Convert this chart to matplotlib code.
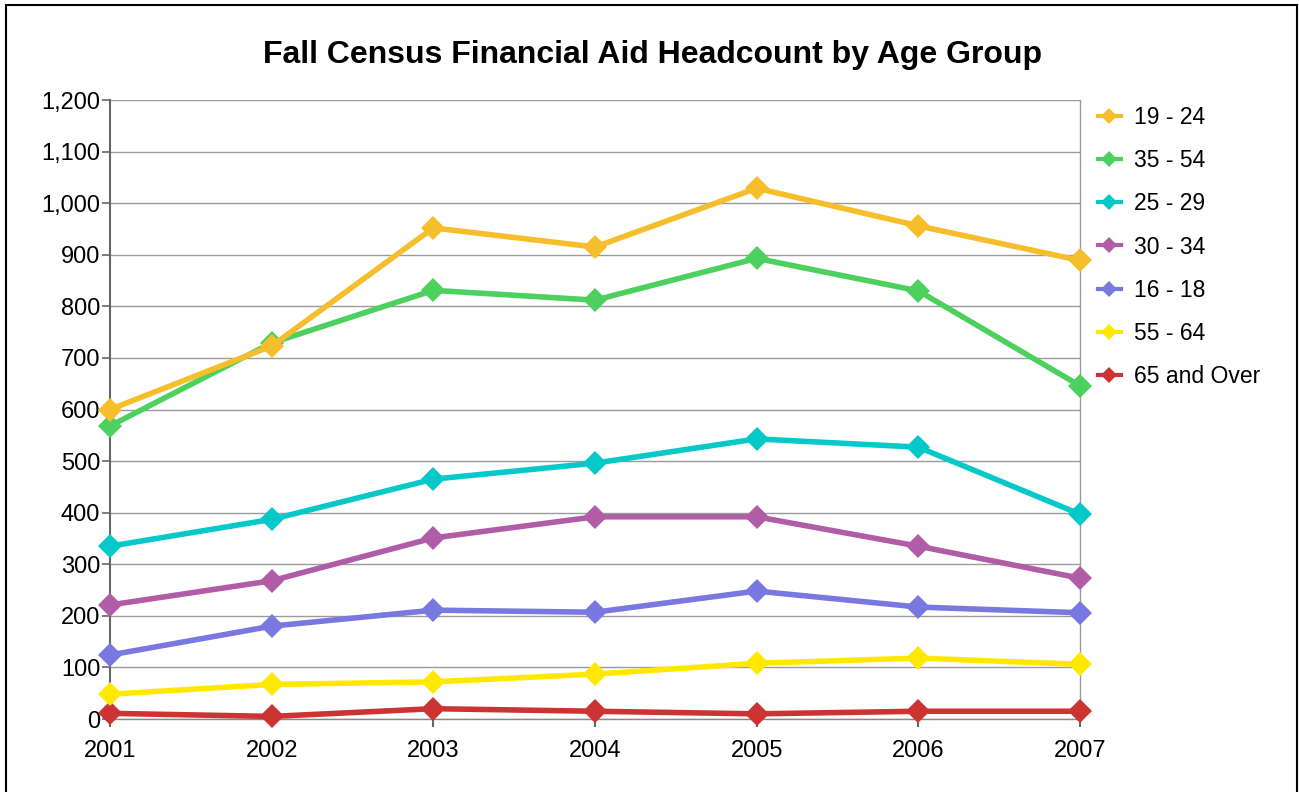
"""Fall census financial aid headcount by age group, 2001-2007."""

import matplotlib
matplotlib.use("Agg")
import matplotlib.pyplot as plt
from matplotlib.patches import Rectangle
from matplotlib.ticker import FuncFormatter, MultipleLocator

plt.rcParams["font.family"] = ["Liberation Sans", "DejaVu Sans"]

years = [2001, 2002, 2003, 2004, 2005, 2006, 2007]

age_19_24 = [600, 723, 952, 915, 1029, 956, 889]
age_35_54 = [568, 729, 831, 812, 893, 830, 646]
age_25_29 = [335, 387, 465, 496, 543, 527, 397]
age_30_34 = [221, 268, 351, 392, 392, 335, 273]
age_16_18 = [124, 180, 211, 207, 248, 217, 206]
age_55_64 = [48, 67, 72, 87, 108, 118, 106]
age_65_over = [11, 5, 20, 15, 10, 15, 15]

series = [
    ("19 - 24", age_19_24, "#F7BE2C"),
    ("35 - 54", age_35_54, "#4CD05E"),
    ("25 - 29", age_25_29, "#05C9C9"),
    ("30 - 34", age_30_34, "#B05CA6"),
    ("16 - 18", age_16_18, "#7878E0"),
    ("55 - 64", age_55_64, "#FFE800"),
    ("65 and Over", age_65_over, "#CC3333"),
]

W, H = 1299, 792
fig = plt.figure(figsize=(W / 100, H / 100), dpi=100)
ax = fig.add_axes([110 / W, 1 - 719 / H, (1080 - 110) / W, (719 - 100) / H])

n = len(series)
for i, (label, vals, col) in enumerate(series):
    ax.plot(years, vals, color=col, linewidth=4.0, marker="D",
            markersize=12, markeredgewidth=0, label=label,
            zorder=10 + n - i, clip_on=False)

ax.set_xlim(2001, 2007)
ax.set_ylim(0, 1200)
ax.set_xticks(years)
ax.set_xticklabels([str(y) for y in years])
ax.yaxis.set_major_locator(MultipleLocator(100))
ax.yaxis.set_major_formatter(FuncFormatter(lambda v, p: f"{int(v):,}"))

ax.grid(axis="y", color="#9a9a9a", linewidth=1.0)
ax.set_axisbelow(True)
ax.spines["top"].set_visible(False)
ax.spines["left"].set_color("#666666")
ax.spines["left"].set_linewidth(1.5)
ax.spines["bottom"].set_color("#888888")
ax.spines["bottom"].set_linewidth(1.0)
ax.spines["right"].set_color("#999999")
ax.spines["right"].set_linewidth(1.0)
ax.tick_params(axis="y", length=6, width=1.2, color="#666666",
               labelsize=17, pad=1, labelcolor="black")
ax.tick_params(axis="x", length=6, width=1.5, color="#666666",
               labelsize=17, pad=9, labelcolor="black")

fig.text(653 / W, 1 - 55 / H, "Fall Census Financial Aid Headcount by Age Group",
         ha="center", va="center", fontsize=23, fontweight="bold")

leg = ax.legend(loc="upper left", bbox_to_anchor=(1098 / W, 1 - 106 / H),
                bbox_transform=fig.transFigure, frameon=False, fontsize=16.5,
                handlelength=1.0, handletextpad=0.55, labelspacing=0.88,
                borderaxespad=0, borderpad=0, markerscale=0.65)
for h in leg.legend_handles:
    h.set_linewidth(3)

fig.patches.append(Rectangle((6 / W, -0.05), (1297 - 6) / W, 1 - 5 / H + 0.05,
                             transform=fig.transFigure, fill=False,
                             edgecolor="black", linewidth=1.5))

fig.savefig("out.png", dpi=100)
